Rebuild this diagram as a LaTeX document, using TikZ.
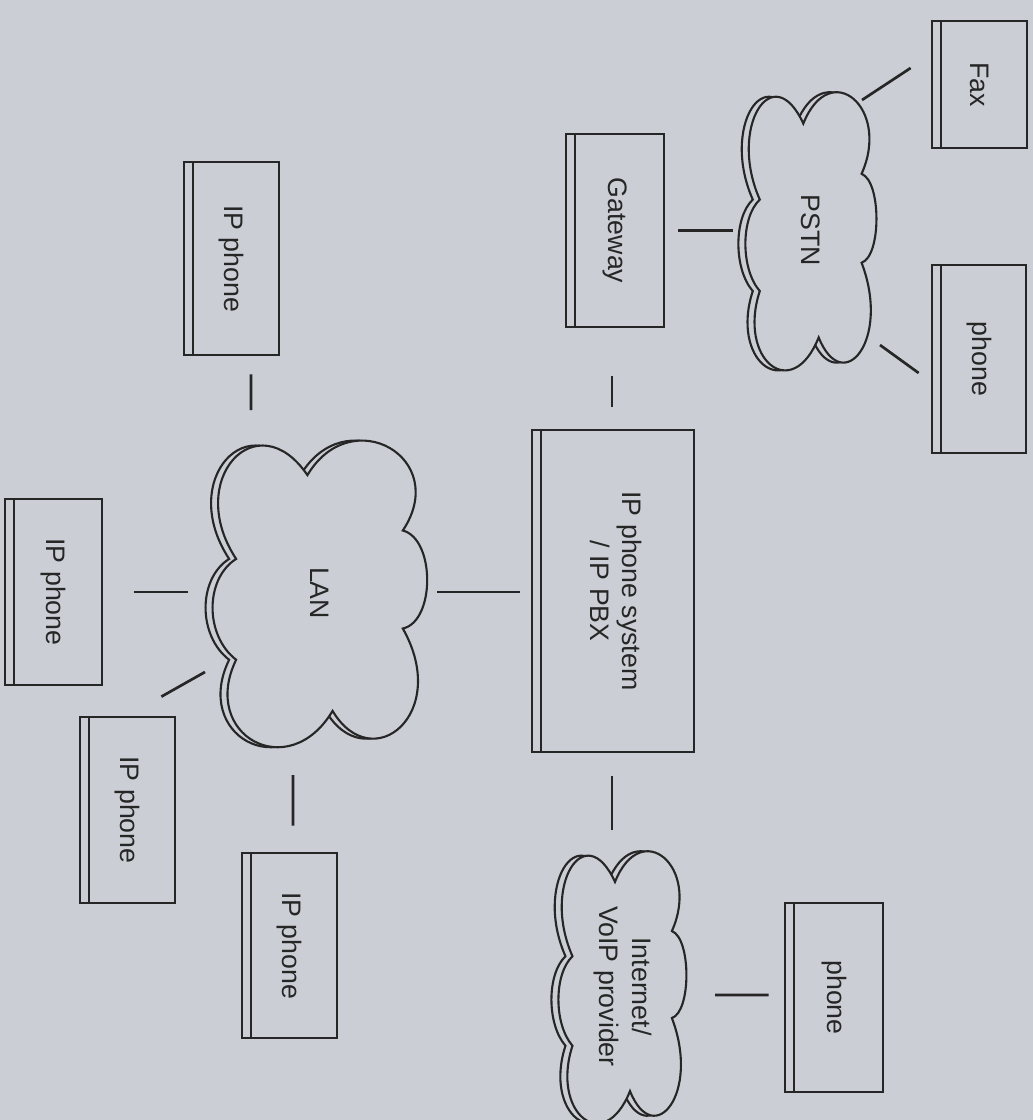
\documentclass[tikz,border=0pt]{standalone}
\usepackage{fontspec}
\setmainfont{Liberation Sans}
\usetikzlibrary{calc}
\definecolor{bg}{HTML}{CBCED5}
\definecolor{ink}{HTML}{262626}
\newcommand\vtext[1]{\rotatebox{-90}{#1}}
% normalized cloud outline (x right, y up), notches between lobes
\newcommand\cloudshape{(-0.8,0.24) .. controls (-1.3,0.8) and (-0.6,1.35) .. (-0.12,0.83)
  .. controls (0.3,1.35) and (1.25,0.95) .. (0.79,0.44)
  .. controls (1.1,0.38) and (1.1,-0.2) .. (0.79,-0.25)
  .. controls (1.25,-0.85) and (0.5,-1.3) .. (0.12,-0.83)
  .. controls (-0.3,-1.35) and (-1.15,-1.0) .. (-0.8,-0.47)
  .. controls (-1.1,-0.3) and (-1.1,0.1) .. (-0.8,0.24) -- cycle}
\newcommand\drawcloud[4]{%
  \begin{scope}[shift={(#1-7,#2)}]\filldraw[cloudline,x=#3,y=#4]\cloudshape;\end{scope}
  \begin{scope}[shift={(#1,#2)}]\filldraw[cloudline,x=#3,y=#4]\cloudshape;\end{scope}}
\tikzset{
  dev/.style={rectangle, draw=ink, line width=1.9pt, fill=bg, inner sep=0pt,
    text=ink, font=\fontsize{19}{23}\selectfont,
    path picture={\draw[ink, line width=1pt]
      ([xshift=6.5pt]path picture bounding box.south west) --
      ([xshift=6.5pt]path picture bounding box.north west);}},
  cloudline/.style={draw=ink, line width=1.5pt, fill=bg, line join=miter},
  net/.style={inner sep=0pt, text=ink, font=\fontsize{19}{23}\selectfont},
  conn/.style={draw=ink, line width=1.9pt},
}
\begin{document}
\begin{tikzpicture}[x=0.025cm, y=-0.025cm]
\path[use as bounding box, fill=bg] (0,0) rectangle (1033,1120);

% boxes
\node[dev, minimum width=2.375cm, minimum height=3.175cm] (fax) at (979.5,84.5) {\vtext{Fax}};
\node[dev, minimum width=2.35cm, minimum height=4.7cm] (phoneA) at (979,359) {\vtext{phone}};
\node[dev, minimum width=2.45cm, minimum height=4.825cm] (gw) at (615,230.5) {\vtext{Gateway}};
\node[dev, minimum width=2.375cm, minimum height=4.825cm] (ipA) at (231.5,258.5) {\vtext{IP phone}};
\node[dev, minimum width=4.05cm, minimum height=8.05cm] (pbx) at (613,591)
  {\vtext{\begin{tabular}{@{}c@{}}IP phone system\\/ IP PBX\end{tabular}}};
\node[dev, minimum width=2.425cm, minimum height=4.65cm] (ipB) at (53.5,592) {\vtext{IP phone}};
\node[dev, minimum width=2.375cm, minimum height=4.65cm] (ipC) at (127.5,810) {\vtext{IP phone}};
\node[dev, minimum width=2.375cm, minimum height=4.625cm] (ipD) at (289.5,945.5) {\vtext{IP phone}};
\node[dev, minimum width=2.45cm, minimum height=4.725cm] (phoneB) at (834,997.5) {\vtext{phone}};

% clouds (shadow outline, then front outline) and their labels
\drawcloud{811}{230.5}{1.6cm}{3.22cm}
\node[net] (pstn) at (811,230.5) {\vtext{PSTN}};
\drawcloud{320}{593}{2.62cm}{3.55cm}
\node[net] (lan) at (320,593) {\vtext{LAN}};
\drawcloud{622.5}{986.5}{1.5625cm}{3.15cm}
\node[net] (inet) at (622.5,986.5)
  {\vtext{\begin{tabular}{@{}c@{}}Internet/\\VoIP provider\end{tabular}}};

% connectors
\draw[conn] ([shift={(51,-130.5)}]pstn.center) -- ([shift={(-20,-16.5)}]fax.west);
\draw[conn] ([shift={(69,114.5)}]pstn.center) -- ([shift={(-12,14)}]phoneA.west);
\draw[conn] ([shift={(13,0)}]gw.east) -- ([shift={(-78,0)}]pstn.center);
\draw[conn] ([shift={(-3,48)}]gw.south) -- ([shift={(-1,-22)}]pbx.north);
\draw[conn] ([shift={(19.5,18)}]ipA.south) -- ([shift={(-69,-183)}]lan.center);
\draw[conn] ([shift={(117,-1)}]lan.center) -- ([shift={(-11,1)}]pbx.west);
\draw[conn] ([shift={(31,0)}]ipB.east) -- ([shift={(-132,-1)}]lan.center);
\draw[conn] ([shift={(-15,-19)}]ipC.north east) -- ([shift={(-115,79)}]lan.center);
\draw[conn] ([shift={(-27,182)}]lan.center) -- ([shift={(3.5,-26)}]ipD.north);
\draw[conn] ([shift={(-1,23)}]pbx.south) -- ([shift={(-10.5,-156.5)}]inet.center);
\draw[conn] ([shift={(92.5,8.5)}]inet.center) -- ([shift={(-15,-2.5)}]phoneB.west);
\end{tikzpicture}
\end{document}
